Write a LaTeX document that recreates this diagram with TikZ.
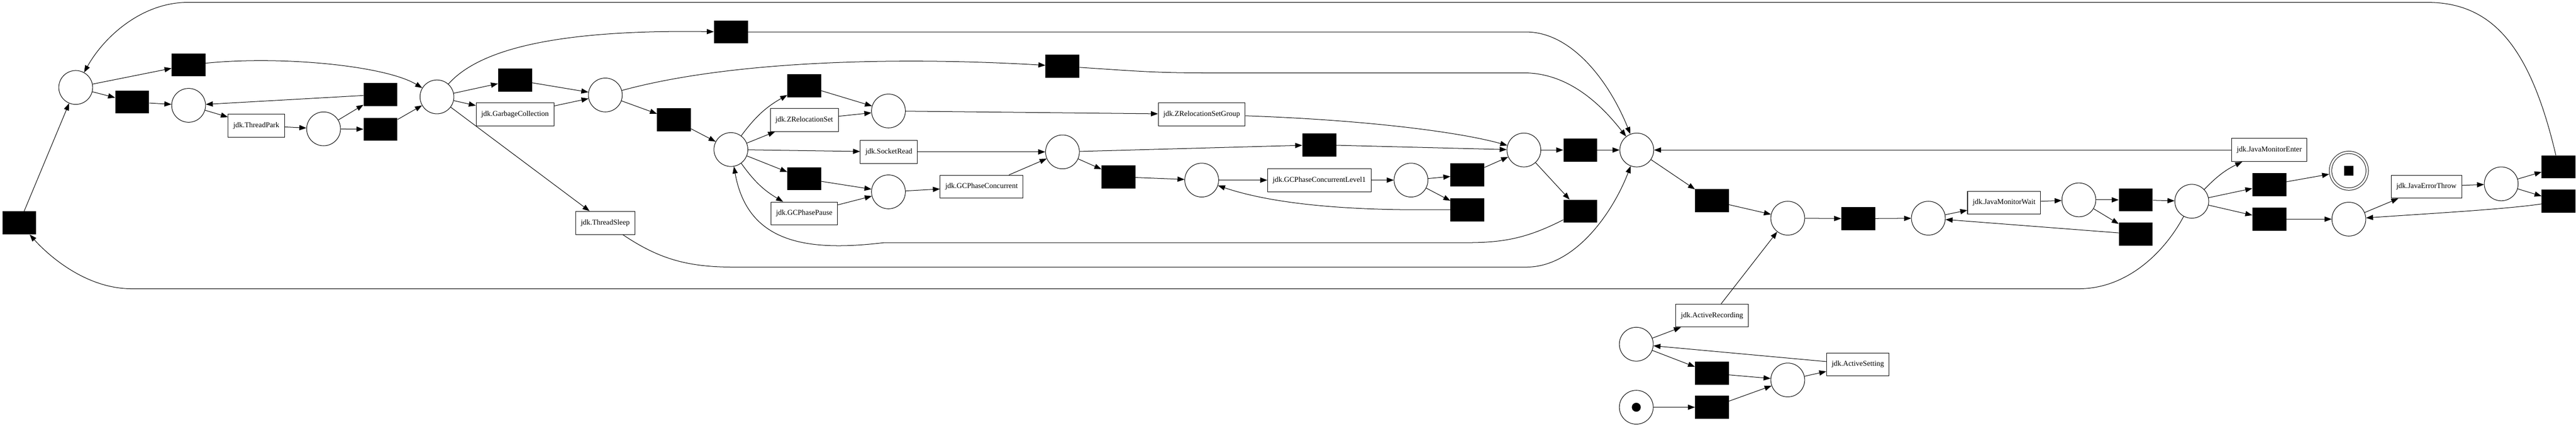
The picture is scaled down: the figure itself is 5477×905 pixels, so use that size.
\documentclass[tikz,border=0pt]{standalone}
\usepackage{fontspec}
\setmainfont{Liberation Serif}
\usetikzlibrary{arrows.meta}

\begin{document}
\begin{tikzpicture}[x=1pt,y=-1pt,
  place/.style={draw,circle,line width=1.1pt,minimum size=72pt,inner sep=0pt},
  trans/.style={fill=black,minimum width=72pt,minimum height=49pt,inner sep=0pt},
  event/.style={draw,rectangle,line width=1.1pt,minimum height=49pt,inner xsep=11pt,inner ysep=0pt,
    font=\fontsize{15.8}{19}\selectfont},
  arc/.style={line width=1.1pt,-{Triangle[length=15pt,width=11pt]}}]

\useasboundingbox (0,0) rectangle (5477,905);

% places
\foreach \n/\x/\y in {p0/161/186, p1/401/224, p2/688/274, p3/929/206, p4/1287/202,
    p5/1554/318, p6/1889/236, p7/1889/408, p8/2259/323, p9/2555/383, p10/3000/383,
    p11/3240/319, p12/3480/319, p13/3801/464, p14/3479/732, pstart/3479/866,
    p15/3801/808, p16/4100/464, p17/4420/425, p18/4660/428, p19/4994/466, p20/5318/391}
  \node[place] (\n) at (\x,\y) {};
\node[place,minimum size=78pt,double,double distance=4pt] (pend) at (4994,363) {};
\node[circle,fill=black,minimum size=19pt,inner sep=0pt] (starttok) at (pstart) {};
\node[fill=black,minimum size=20pt,inner sep=0pt] (endtok) at (pend) {};

% silent transitions
\foreach \n/\x/\y in {tleft/41/474, t1/401/138, t2/281/217, t3/809/201, t4/809/275,
    t5/1554/68, t6/1095/170, t7/1433/255, t8/1710/182, t9/1710/380, t10/2259/141,
    t11/2378/376, t12/2805/308, t13/3120/372, t14/3120/446, t15/3360/319, t16/3360/449,
    t17/3640/427, t18/3640/794, t19/3640/866, t20/3951/465, t21/4541/425, t22/4541/498,
    t23/4825/393, t24/4825/466, t25/5440/355, t26/5440/428}
  \node[trans] (\n) at (\x,\y) {};

% labelled transitions
\node[event] (park) at (545,267) {jdk.ThreadPark};
\node[event] (gc) at (1095,243) {jdk.GarbageCollection};
\node[event] (sleep) at (1287,474) {jdk.ThreadSleep};
\node[event] (zrs) at (1710,255) {jdk.ZRelocationSet};
\node[event] (sread) at (1890,323) {jdk.SocketRead};
\node[event] (pause) at (1710,454) {jdk.GCPhasePause};
\node[event] (conc) at (2087,397) {jdk.GCPhaseConcurrent};
\node[event] (zrsg) at (2555,243) {jdk.ZRelocationSetGroup};
\node[event] (lvl1) at (2805,383) {jdk.GCPhaseConcurrentLevel1};
\node[event] (arec) at (3640,671) {jdk.ActiveRecording};
\node[event] (aset) at (3950,775) {jdk.ActiveSetting};
\node[event] (mwait) at (4261,431) {jdk.JavaMonitorWait};
\node[event] (menter) at (4825,319) {jdk.JavaMonitorEnter};
\node[event] (ethrow) at (5159,397) {jdk.JavaErrorThrow};

% straight arcs
\foreach \a/\b in {tleft/p0, p0/t1, p0/t2, t2/p1, p1/park, park/p2, p2/t3, p2/t4, t3/p1, t4/p3,
    p3/t6, p3/gc, p3/sleep, t6/p4, gc/p4, p4/t7, t7/p5, p5/zrs, p5/sread, p5/t9,
    t8/p6, zrs/p6, t9/p7, pause/p7, p6/zrsg, sread/p8, p7/conc, conc/p8,
    p8/t12, p8/t11, t11/p9, p9/lvl1, lvl1/p10, p10/t13, p10/t14, t13/p11, t12/p11,
    p11/t15, t15/p12, p11/t16, p12/t17, t17/p13, arec/p13, menter/p12,
    p13/t20, t20/p16, p16/mwait, mwait/p17, p17/t21, p17/t22, t22/p16, t21/p18,
    p18/t23, p18/t24, t24/p19, p19/ethrow, ethrow/p20, p20/t25, p20/t26,
    pstart/t19, t19/p15, p14/t18, t18/p15, p15/aset, aset/p14, p14/arec}
  \draw[arc] (\a) -- (\b);
\draw[arc,shorten >=3pt] (t23) -- (pend);

% bent arcs
\draw[arc] (p5) to[bend left=12] (t8);
\draw[arc] (p5) to[bend right=12] (pause);
\draw[arc] (p18) to[bend left=10] (menter);
\draw[arc] (t1) .. controls (600,118) and (820,140) .. (p3);
\draw[arc] (p3) .. controls (1010,115) and (1150,62) .. (t5);
\draw[arc] (p4) .. controls (1550,130) and (1900,120) .. (t10);
\draw[arc] (zrsg) .. controls (2900,255) and (3100,280) .. (p11);
\draw[arc] (t14) -- (2990,446) .. controls (2800,444) and (2680,425) .. (p9);
\draw[arc] (t26) .. controls (5330,445) and (5150,455) .. (p19);

% long arcs
\draw[arc] (t5) -- (3245,68) .. controls (3340,68) and (3420,170) .. (p12);
\draw[arc] (t10) .. controls (2400,150) and (2450,155) .. (2560,155) -- (3240,155)
  .. controls (3340,155) and (3410,230) .. (p12);
\draw[arc] (sleep) .. controls (1400,550) and (1460,568) .. (1560,568) -- (3245,568)
  .. controls (3350,568) and (3430,450) .. (p12);
\draw[arc] (t16) .. controls (3250,505) and (3200,516) .. (3120,516) -- (1880,516)
  .. controls (1720,535) and (1590,520) .. (p5);
\draw[arc] (t25) .. controls (5380,100) and (5300,5) .. (5160,5) -- (400,5)
  .. controls (300,5) and (220,80) .. (p0);
\draw[arc] (p18) .. controls (4600,540) and (4520,614) .. (4420,614) -- (280,614)
  .. controls (180,614) and (100,540) .. (tleft);
\end{tikzpicture}
\end{document}
